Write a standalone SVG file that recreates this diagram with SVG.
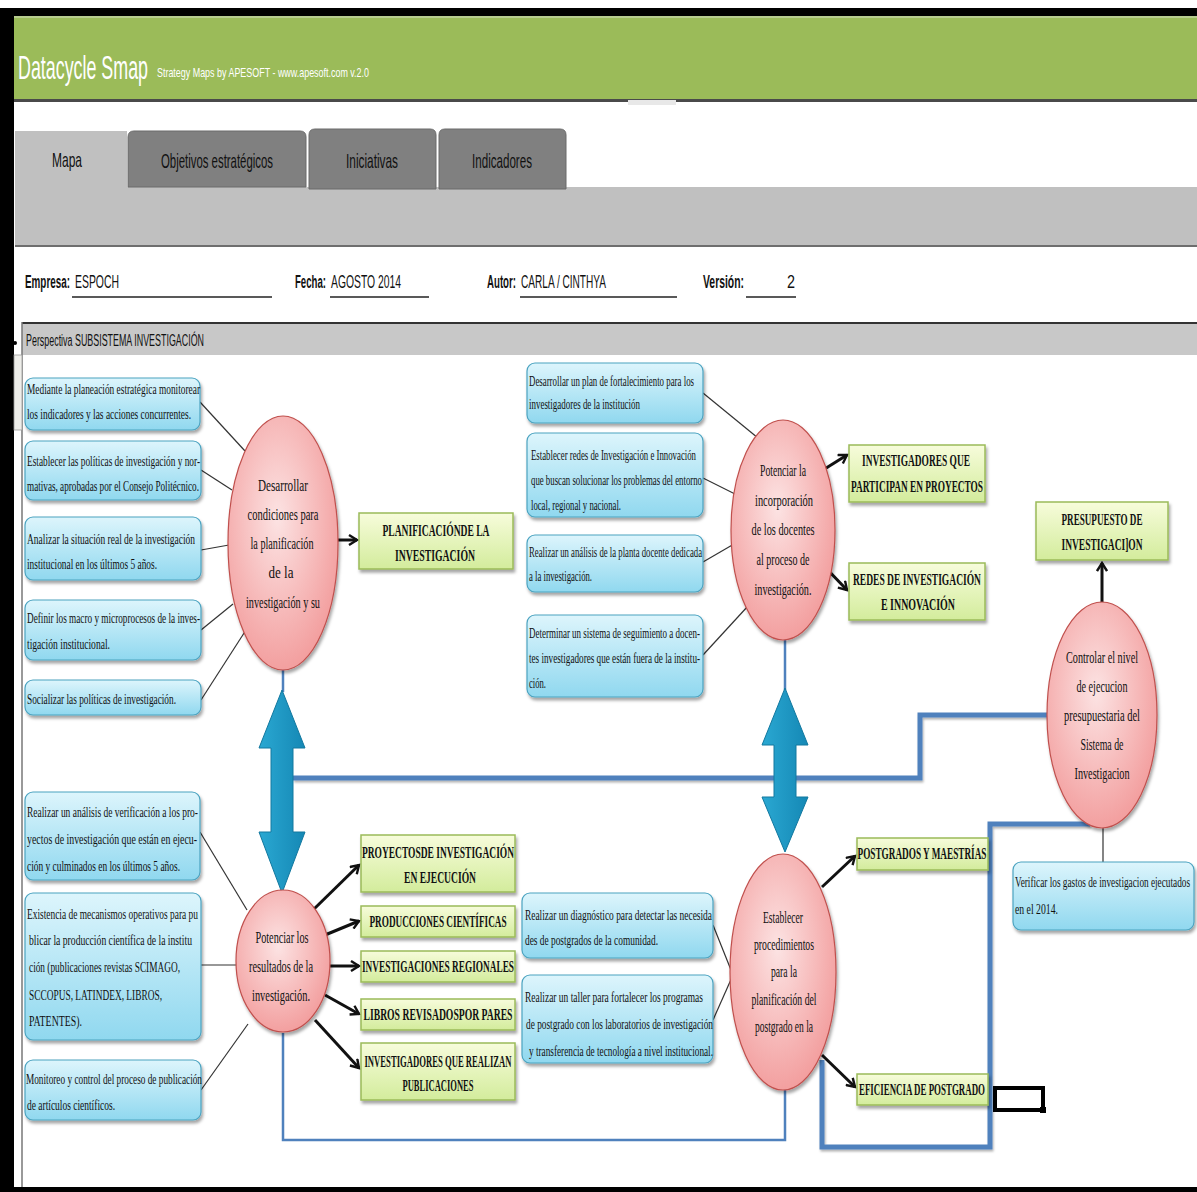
<svg xmlns="http://www.w3.org/2000/svg" width="1197" height="1192" viewBox="0 0 1197 1192">
<defs>
<linearGradient id="gBlue" x1="0" y1="0" x2="0" y2="1"><stop offset="0" stop-color="#DDF5FC"/><stop offset="1" stop-color="#90D8EF"/></linearGradient>
<radialGradient id="gPink" cx="0.45" cy="0.4" r="0.65"><stop offset="0" stop-color="#FCE3E3"/><stop offset="1" stop-color="#F29A9A"/></radialGradient>
<linearGradient id="gGreen" x1="0" y1="0" x2="0" y2="1"><stop offset="0" stop-color="#F7FCDB"/><stop offset="1" stop-color="#D3EC9C"/></linearGradient>
<linearGradient id="gTeal" x1="0" y1="0" x2="1" y2="0"><stop offset="0" stop-color="#2AA8D2"/><stop offset="1" stop-color="#1588B5"/></linearGradient>
<filter id="sh" x="-10%" y="-10%" width="130%" height="140%"><feDropShadow dx="1.5" dy="3" stdDeviation="1.5" flood-color="#000" flood-opacity="0.35"/></filter>
<filter id="lsh" x="-5%" y="-50%" width="110%" height="200%"><feDropShadow dx="1" dy="2" stdDeviation="1" flood-color="#000" flood-opacity="0.3"/></filter>
<marker id="ah2" markerWidth="12" markerHeight="12" refX="9" refY="6" orient="auto" markerUnits="userSpaceOnUse"><path d="M1,1 L9,6 L1,11" fill="none" stroke="#111" stroke-width="2.4"/></marker>
<style>
.bx{fill:url(#gBlue);stroke:#4BA3C0;stroke-width:1.2;filter:url(#sh)}
.bt{font-family:"Liberation Serif",serif;font-size:14px;fill:#111}
.ci{fill:url(#gPink);stroke:#C0504D;stroke-width:1.2;filter:url(#sh)}
.ct{font-family:"Liberation Serif",serif;font-size:17px;fill:#111;text-anchor:middle}
.gr{fill:url(#gGreen);stroke:#9BBB59;stroke-width:1.5;filter:url(#sh)}
.gt{font-family:"Liberation Serif",serif;font-size:16px;font-weight:bold;fill:#111;text-anchor:middle}
.ui{font-family:"Liberation Sans",Arial,sans-serif;fill:#111}
.tab{fill:#808080;stroke:#6a6a6a;stroke-width:1}
.thin{stroke:#333;stroke-width:1.2;fill:none}
.arr{stroke:#111;stroke-width:3;fill:none;marker-end:url(#ah2)}
.bl{stroke:#4F81BD;stroke-width:5;fill:none;filter:url(#lsh)}
.blt{stroke:#4F81BD;stroke-width:2.5;fill:none}
.ta{fill:url(#gTeal);stroke:#12789F;stroke-width:1}
</style>
</defs>

<!-- frame and header -->
<rect x="0" y="0" width="1197" height="1192" fill="#fff"/>
<rect x="0" y="8" width="1197" height="8" fill="#000"/>
<rect x="0" y="8" width="14" height="1184" fill="#000"/>
<rect x="0" y="1187" width="1197" height="5" fill="#000"/>
<rect x="14" y="16" width="1183" height="84" fill="#9BBB59"/>
<rect x="14" y="16" width="1183" height="2" fill="#B7CC8E"/>
<rect x="14" y="99" width="1183" height="3" fill="#4A4A4A"/>
<rect x="628" y="100" width="48" height="5" fill="#E8E8E8"/>
<text x="18" y="79" font-family="Liberation Sans,Arial,sans-serif" font-size="34" fill="#fff" textLength="130" lengthAdjust="spacingAndGlyphs">Datacycle Smap</text>
<text x="157" y="77" font-family="Liberation Sans,Arial,sans-serif" font-size="13" fill="#fff" textLength="212" lengthAdjust="spacingAndGlyphs">Strategy Maps by APESOFT  -  www.apesoft.com v.2.0</text>

<!-- tabs -->
<rect x="15" y="187" width="1182" height="59" fill="#C0C0C0"/>
<rect x="15" y="131" width="112" height="70" fill="#C0C0C0"/>
<rect x="15" y="245" width="1182" height="2" fill="#6E6E6E"/>
<path class="tab" d="M128,187 V137 Q128,131 134,131 H300 Q306,131 306,137 V187 Z"/>
<path class="tab" d="M309,189 V135 Q309,129 315,129 H430 Q436,129 436,135 V189 Z"/>
<path class="tab" d="M439,189 V135 Q439,129 445,129 H560 Q566,129 566,135 V189 Z"/>
<text class="ui" x="67" y="167" font-size="21" text-anchor="middle" textLength="30" lengthAdjust="spacingAndGlyphs">Mapa</text>
<text class="ui" x="217" y="168" font-size="21" text-anchor="middle" textLength="112" lengthAdjust="spacingAndGlyphs">Objetivos estratégicos</text>
<text class="ui" x="372" y="168" font-size="21" text-anchor="middle" textLength="52" lengthAdjust="spacingAndGlyphs">Iniciativas</text>
<text class="ui" x="502" y="168" font-size="21" text-anchor="middle" textLength="60" lengthAdjust="spacingAndGlyphs">Indicadores</text>

<!-- form -->
<g font-size="18">
<text class="ui" x="25" y="288" font-weight="bold" textLength="45" lengthAdjust="spacingAndGlyphs">Empresa:</text>
<text class="ui" x="75" y="288" textLength="44" lengthAdjust="spacingAndGlyphs">ESPOCH</text>
<text class="ui" x="295" y="288" font-weight="bold" textLength="31" lengthAdjust="spacingAndGlyphs">Fecha:</text>
<text class="ui" x="331" y="288" textLength="70" lengthAdjust="spacingAndGlyphs">AGOSTO 2014</text>
<text class="ui" x="487" y="288" font-weight="bold" textLength="29" lengthAdjust="spacingAndGlyphs">Autor:</text>
<text class="ui" x="521" y="288" textLength="85" lengthAdjust="spacingAndGlyphs">CARLA / CINTHYA</text>
<text class="ui" x="703" y="288" font-weight="bold" textLength="41" lengthAdjust="spacingAndGlyphs">Versión:</text>
<text class="ui" x="787" y="288" textLength="8" lengthAdjust="spacingAndGlyphs">2</text>
</g>
<g stroke="#222" stroke-width="1.5">
<line x1="72" y1="297" x2="272" y2="297"/><line x1="330" y1="297" x2="429" y2="297"/>
<line x1="520" y1="297" x2="677" y2="297"/><line x1="746" y1="297" x2="796" y2="297"/>
</g>

<!-- perspective bar -->
<rect x="22" y="323" width="1175" height="32" fill="#C8C8C8"/>
<rect x="22" y="322" width="1175" height="2" fill="#333"/>
<line x1="22" y1="322" x2="22" y2="1187" stroke="#777" stroke-width="1.5"/>
<rect x="14" y="355" width="8" height="75" fill="#EEEEEA" stroke="#999" stroke-width="0.8"/>
<circle cx="15" cy="343" r="2" fill="#000"/>
<text class="ui" x="26" y="346" font-size="16" textLength="178" lengthAdjust="spacingAndGlyphs">Perspectiva SUBSISTEMA INVESTIGACIÓN</text>

<!-- connectors -->
<g id="connectors">
<line class="thin" x1="200" y1="402" x2="245" y2="451"/>
<line class="thin" x1="201" y1="470" x2="232" y2="490"/>
<line class="thin" x1="201" y1="550" x2="229" y2="545"/>
<line class="thin" x1="201" y1="630" x2="233" y2="604"/>
<line class="thin" x1="201" y1="700" x2="246" y2="630"/>
<line class="arr" x1="338" y1="540" x2="357" y2="540"/>
<line class="thin" x1="703" y1="393" x2="758" y2="438"/>
<line class="thin" x1="703" y1="478" x2="737" y2="495"/>
<line class="thin" x1="703" y1="562" x2="734" y2="544"/>
<line class="thin" x1="703" y1="655" x2="748" y2="606"/>
<line class="arr" x1="823" y1="470" x2="847" y2="455"/>
<line class="arr" x1="823" y1="565" x2="847" y2="590"/>
<line class="arr" x1="1102" y1="603" x2="1102" y2="563"/>
<line class="thin" x1="1103" y1="828" x2="1103" y2="862"/>
<line class="thin" x1="200" y1="832" x2="247" y2="910"/>
<line class="thin" x1="201" y1="965" x2="236" y2="965"/>
<line class="thin" x1="201" y1="1090" x2="248" y2="1024"/>
<line class="arr" x1="313" y1="910" x2="359" y2="865"/>
<line class="arr" x1="325" y1="935" x2="359" y2="921"/>
<line class="arr" x1="330" y1="966" x2="359" y2="966"/>
<line class="arr" x1="325" y1="995" x2="359" y2="1014"/>
<line class="arr" x1="315" y1="1020" x2="359" y2="1068"/>
<line class="thin" x1="713" y1="925" x2="733" y2="975"/>
<line class="thin" x1="713" y1="1020" x2="733" y2="975"/>
<line class="arr" x1="822" y1="887" x2="855" y2="856"/>
<line class="arr" x1="822" y1="1055" x2="855" y2="1087"/>
<line class="blt" x1="283" y1="668" x2="283" y2="692"/>
<line class="blt" x1="785" y1="640" x2="785" y2="690"/>
<polyline class="bl" points="293,778 920,778 920,715 1048,715"/>
<polyline class="bl" points="1090,824 990,824 990,1147 822,1147 822,1060"/>
<polyline class="blt" points="283,1033 283,1140 785,1140 785,1090"/>
<polygon class="ta" points="282,690 305,748 293,748 293,832 305,832 282,893 259,832 271,832 271,748 259,748"/>
<polygon class="ta" points="785,688 808,745 796,745 796,797 808,797 785,852 762,797 774,797 774,745 762,745"/>
</g>

<!-- left top boxes -->
<g id="n1"><rect class="bx" x="25" y="378" width="175" height="52" rx="8"/>
<text class="bt" x="27" y="394" textLength="173" lengthAdjust="spacingAndGlyphs">Mediante la planeación estratégica monitorear</text>
<text class="bt" x="27" y="419" textLength="164" lengthAdjust="spacingAndGlyphs">los indicadores y las acciones concurrentes.</text></g>
<g id="n2"><rect class="bx" x="25" y="441" width="176" height="59" rx="8"/>
<text class="bt" x="27" y="466" textLength="173" lengthAdjust="spacingAndGlyphs">Establecer las políticas de investigación y nor-</text>
<text class="bt" x="27" y="491" textLength="172" lengthAdjust="spacingAndGlyphs">mativas, aprobadas por el Consejo Politécnico.</text></g>
<g id="n3"><rect class="bx" x="25" y="517" width="176" height="63" rx="8"/>
<text class="bt" x="27" y="544" textLength="168" lengthAdjust="spacingAndGlyphs">Analizar la situación real de la investigación</text>
<text class="bt" x="27" y="569" textLength="130" lengthAdjust="spacingAndGlyphs">institucional en los últimos 5 años.</text></g>
<g id="n4"><rect class="bx" x="25" y="600" width="176" height="60" rx="8"/>
<text class="bt" x="27" y="623" textLength="173" lengthAdjust="spacingAndGlyphs">Definir los macro y microprocesos de la inves-</text>
<text class="bt" x="27" y="649" textLength="83" lengthAdjust="spacingAndGlyphs">tigación institucional.</text></g>
<g id="n5"><rect class="bx" x="25" y="680" width="176" height="35" rx="8"/>
<text class="bt" x="27" y="704" textLength="149" lengthAdjust="spacingAndGlyphs">Socializar las políticas de investigación.</text></g>

<g id="c1"><ellipse class="ci" cx="283" cy="543" rx="55" ry="127"/>
<text class="ct" x="283" y="491" textLength="50" lengthAdjust="spacingAndGlyphs">Desarrollar</text>
<text class="ct" x="283" y="520" textLength="71" lengthAdjust="spacingAndGlyphs">condiciones para</text>
<text class="ct" x="282" y="549" textLength="63" lengthAdjust="spacingAndGlyphs">la planificación</text>
<text class="ct" x="281" y="578" textLength="25" lengthAdjust="spacingAndGlyphs">de la</text>
<text class="ct" x="283" y="608" textLength="74" lengthAdjust="spacingAndGlyphs">investigación y su</text></g>

<g id="g1"><rect class="gr" x="359" y="513" width="154" height="56"/>
<text class="gt" x="436" y="536" textLength="107" lengthAdjust="spacingAndGlyphs">PLANIFICACIÓNDE LA</text>
<text class="gt" x="435" y="561" textLength="80" lengthAdjust="spacingAndGlyphs">INVESTIGACIÓN</text></g>

<!-- middle top boxes -->
<g id="n6"><rect class="bx" x="527" y="363" width="176" height="60" rx="8"/>
<text class="bt" x="529" y="386" textLength="165" lengthAdjust="spacingAndGlyphs">Desarrollar un plan de fortalecimiento para los</text>
<text class="bt" x="529" y="409" textLength="111" lengthAdjust="spacingAndGlyphs">investigadores de la institución</text></g>
<g id="n7"><rect class="bx" x="527" y="433" width="176" height="84" rx="8"/>
<text class="bt" x="531" y="460" textLength="165" lengthAdjust="spacingAndGlyphs">Establecer redes de Investigación e Innovación</text>
<text class="bt" x="531" y="485" textLength="171" lengthAdjust="spacingAndGlyphs">que buscan solucionar los problemas del entorno</text>
<text class="bt" x="531" y="510" textLength="90" lengthAdjust="spacingAndGlyphs">local, regional y nacional.</text></g>
<g id="n8"><rect class="bx" x="527" y="535" width="176" height="57" rx="8"/>
<text class="bt" x="529" y="557" textLength="173" lengthAdjust="spacingAndGlyphs">Realizar un análisis de la planta docente dedicada</text>
<text class="bt" x="529" y="581" textLength="63" lengthAdjust="spacingAndGlyphs">a la investigación.</text></g>
<g id="n9"><rect class="bx" x="527" y="615" width="176" height="82" rx="8"/>
<text class="bt" x="529" y="638" textLength="171" lengthAdjust="spacingAndGlyphs">Determinar un sistema de seguimiento a docen-</text>
<text class="bt" x="529" y="663" textLength="171" lengthAdjust="spacingAndGlyphs">tes investigadores que están fuera de la institu-</text>
<text class="bt" x="529" y="688" textLength="17" lengthAdjust="spacingAndGlyphs">ción.</text></g>

<g id="c2"><ellipse class="ci" cx="783" cy="530" rx="52" ry="110"/>
<text class="ct" x="783" y="476" textLength="46" lengthAdjust="spacingAndGlyphs">Potenciar la</text>
<text class="ct" x="784" y="506" textLength="58" lengthAdjust="spacingAndGlyphs">incorporación</text>
<text class="ct" x="783" y="535" textLength="63" lengthAdjust="spacingAndGlyphs">de los docentes</text>
<text class="ct" x="783" y="565" textLength="53" lengthAdjust="spacingAndGlyphs">al proceso de</text>
<text class="ct" x="783" y="595" textLength="57" lengthAdjust="spacingAndGlyphs">investigación.</text></g>

<g id="g2"><rect class="gr" x="849" y="445" width="136" height="57"/>
<text class="gt" x="916" y="466" textLength="108" lengthAdjust="spacingAndGlyphs">INVESTIGADORES QUE</text>
<text class="gt" x="917" y="492" textLength="132" lengthAdjust="spacingAndGlyphs">PARTICIPAN EN PROYECTOS</text></g>
<g id="g3"><rect class="gr" x="849" y="563" width="136" height="57"/>
<text class="gt" x="917" y="585" textLength="128" lengthAdjust="spacingAndGlyphs">REDES DE INVESTIGACIÓN</text>
<text class="gt" x="918" y="610" textLength="74" lengthAdjust="spacingAndGlyphs">E INNOVACIÓN</text></g>
<g id="g4"><rect class="gr" x="1036" y="502" width="132" height="58"/>
<text class="gt" x="1102" y="525" font-size="15" textLength="81" lengthAdjust="spacingAndGlyphs">PRESUPUESTO DE</text>
<text class="gt" x="1102" y="550" font-size="15" textLength="81" lengthAdjust="spacingAndGlyphs">INVESTIGACI]ON</text></g>

<g id="c3"><ellipse class="ci" cx="1102" cy="715" rx="55" ry="113"/>
<text class="ct" x="1102" y="663" textLength="72" lengthAdjust="spacingAndGlyphs">Controlar el nivel</text>
<text class="ct" x="1102" y="692" textLength="51" lengthAdjust="spacingAndGlyphs">de ejecucion</text>
<text class="ct" x="1102" y="721" textLength="76" lengthAdjust="spacingAndGlyphs">presupuestaria del</text>
<text class="ct" x="1102" y="750" textLength="43" lengthAdjust="spacingAndGlyphs">Sistema de</text>
<text class="ct" x="1102" y="779" textLength="55" lengthAdjust="spacingAndGlyphs">Investigacion</text></g>

<g id="n10"><rect class="bx" x="1013" y="862" width="181" height="68" rx="8"/>
<text class="bt" x="1015" y="887" textLength="175" lengthAdjust="spacingAndGlyphs">Verificar los gastos de investigacion ejecutados</text>
<text class="bt" x="1015" y="914" textLength="43" lengthAdjust="spacingAndGlyphs">en el 2014.</text></g>

<!-- bottom left -->
<g id="n11"><rect class="bx" x="25" y="792" width="175" height="88" rx="8"/>
<text class="bt" x="27" y="817" textLength="171" lengthAdjust="spacingAndGlyphs">Realizar un análisis de verificación a los pro-</text>
<text class="bt" x="27" y="844" textLength="170" lengthAdjust="spacingAndGlyphs">yectos de investigación que están en ejecu-</text>
<text class="bt" x="27" y="871" textLength="153" lengthAdjust="spacingAndGlyphs">ción y culminados en los últimos 5 años.</text></g>
<g id="n12"><rect class="bx" x="25" y="893" width="176" height="147" rx="8"/>
<text class="bt" x="27" y="919" textLength="171" lengthAdjust="spacingAndGlyphs">Existencia de mecanismos operativos para pu</text>
<text class="bt" x="29" y="945" textLength="163" lengthAdjust="spacingAndGlyphs">blicar  la producción científica de la institu</text>
<text class="bt" x="29" y="972" textLength="151" lengthAdjust="spacingAndGlyphs">ción (publicaciones revistas SCIMAGO,</text>
<text class="bt" x="29" y="1000" textLength="133" lengthAdjust="spacingAndGlyphs">SCCOPUS, LATINDEX, LIBROS,</text>
<text class="bt" x="29" y="1026" textLength="53" lengthAdjust="spacingAndGlyphs">PATENTES).</text></g>
<g id="n13"><rect class="bx" x="25" y="1060" width="176" height="60" rx="8"/>
<text class="bt" x="26" y="1084" textLength="176" lengthAdjust="spacingAndGlyphs">Monitoreo y control del proceso de publicación</text>
<text class="bt" x="27" y="1110" textLength="88" lengthAdjust="spacingAndGlyphs">de artículos científicos.</text></g>

<g id="c4"><ellipse class="ci" cx="283" cy="961" rx="47" ry="71"/>
<text class="ct" x="282" y="943" textLength="53" lengthAdjust="spacingAndGlyphs">Potenciar los</text>
<text class="ct" x="281" y="972" textLength="64" lengthAdjust="spacingAndGlyphs">resultados de la</text>
<text class="ct" x="281" y="1001" textLength="58" lengthAdjust="spacingAndGlyphs">investigación.</text></g>

<g id="g5"><rect class="gr" x="361" y="835" width="154" height="57"/>
<text class="gt" x="438" y="858" textLength="152" lengthAdjust="spacingAndGlyphs">PROYECTOSDE INVESTIGACIÓN</text>
<text class="gt" x="440" y="883" textLength="72" lengthAdjust="spacingAndGlyphs">EN EJECUCIÓN</text></g>
<g id="g6"><rect class="gr" x="361" y="906" width="154" height="31"/>
<text class="gt" x="438" y="927" textLength="137" lengthAdjust="spacingAndGlyphs">PRODUCCIONES CIENTÍFICAS</text></g>
<g id="g7"><rect class="gr" x="361" y="951" width="154" height="31"/>
<text class="gt" x="438" y="972" textLength="152" lengthAdjust="spacingAndGlyphs">INVESTIGACIONES REGIONALES</text></g>
<g id="g8"><rect class="gr" x="361" y="999" width="154" height="31"/>
<text class="gt" x="438" y="1020" textLength="149" lengthAdjust="spacingAndGlyphs">LIBROS REVISADOSPOR PARES</text></g>
<g id="g9"><rect class="gr" x="361" y="1043" width="154" height="57"/>
<text class="gt" x="438" y="1067" textLength="147" lengthAdjust="spacingAndGlyphs">INVESTIGADORES QUE REALIZAN</text>
<text class="gt" x="438" y="1091" textLength="71" lengthAdjust="spacingAndGlyphs">PUBLICACIONES</text></g>

<!-- bottom middle -->
<g id="n14"><rect class="bx" x="522" y="893" width="191" height="65" rx="8"/>
<text class="bt" x="525" y="920" textLength="187" lengthAdjust="spacingAndGlyphs">Realizar un diagnóstico para detectar las necesida</text>
<text class="bt" x="525" y="945" textLength="133" lengthAdjust="spacingAndGlyphs">des de postgrados de la comunidad.</text></g>
<g id="n15"><rect class="bx" x="522" y="975" width="191" height="88" rx="8"/>
<text class="bt" x="525" y="1002" textLength="178" lengthAdjust="spacingAndGlyphs">Realizar un taller para fortalecer los programas</text>
<text class="bt" x="526" y="1029" textLength="187" lengthAdjust="spacingAndGlyphs">de postgrado con los laboratorios de investigación</text>
<text class="bt" x="529" y="1056" textLength="184" lengthAdjust="spacingAndGlyphs">y transferencia de tecnología a nivel institucional.</text></g>

<g id="c5"><ellipse class="ci" cx="783" cy="972" rx="53" ry="118"/>
<text class="ct" x="783" y="923" font-size="15.5" textLength="40" lengthAdjust="spacingAndGlyphs">Establecer</text>
<text class="ct" x="784" y="950" font-size="15.5" textLength="60" lengthAdjust="spacingAndGlyphs">procedimientos</text>
<text class="ct" x="784" y="977" font-size="15.5" textLength="26" lengthAdjust="spacingAndGlyphs">para la</text>
<text class="ct" x="784" y="1005" font-size="15.5" textLength="65" lengthAdjust="spacingAndGlyphs">planificación del</text>
<text class="ct" x="784" y="1032" font-size="15.5" textLength="58" lengthAdjust="spacingAndGlyphs">postgrado en la</text></g>

<g id="g10"><rect class="gr" x="857" y="838" width="131" height="32"/>
<text class="gt" x="922" y="859" textLength="129" lengthAdjust="spacingAndGlyphs">POSTGRADOS Y MAESTRÍAS</text></g>
<g id="g11"><rect class="gr" x="857" y="1074" width="131" height="31"/>
<text class="gt" x="922" y="1095" textLength="126" lengthAdjust="spacingAndGlyphs">EFICIENCIA DE POSTGRADO</text></g>

<g id="blackbox"><rect x="995" y="1088" width="48" height="22" fill="none" stroke="#000" stroke-width="4"/>
<rect x="1040" y="1107" width="6" height="6" fill="#000"/></g>
</svg>
